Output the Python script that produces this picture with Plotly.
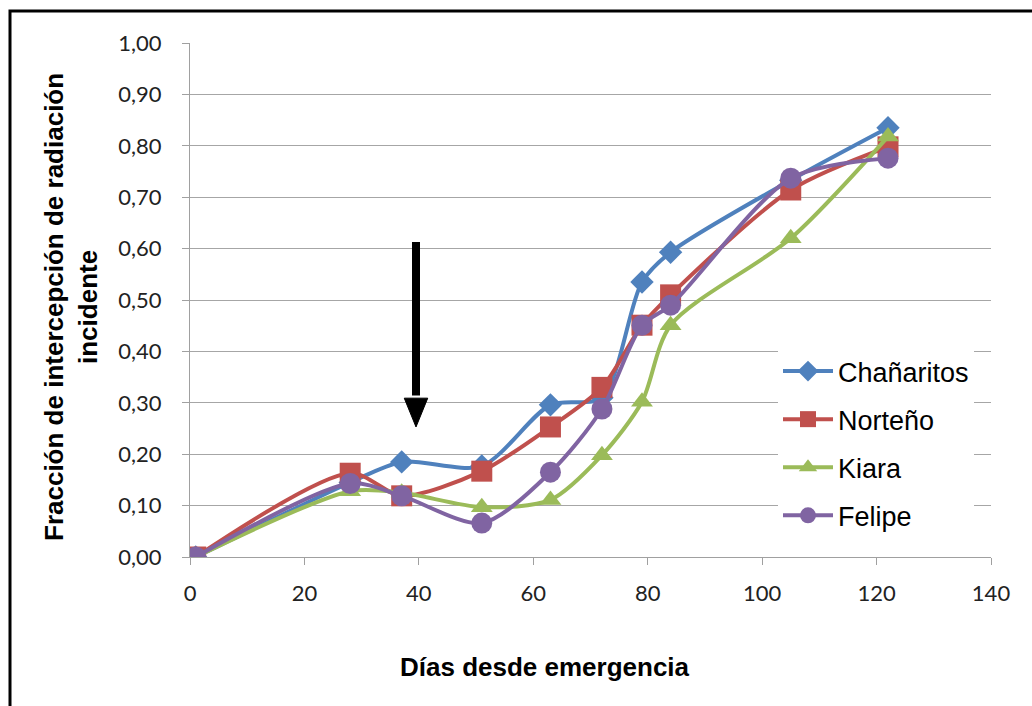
import plotly.graph_objects as go

dias = [1, 28, 37, 51, 63, 72, 79, 84, 105, 122]
chanaritos = [0.0, 0.145, 0.185, 0.177, 0.296, 0.31, 0.535, 0.593, 0.733, 0.835]
norteno = [0.0, 0.163, 0.119, 0.167, 0.253, 0.33, 0.451, 0.51, 0.714, 0.798]
kiara = [0.0, 0.128, 0.125, 0.097, 0.111, 0.198, 0.302, 0.451, 0.62, 0.818]
felipe = [0.0, 0.143, 0.119, 0.066, 0.165, 0.288, 0.451, 0.49, 0.737, 0.776]

series_names = ["Chañaritos", "Norteño", "Kiara", "Felipe"]
series_values = [chanaritos, norteno, kiara, felipe]
colors = ["#4F81BD", "#C0504D", "#9BBB59", "#8064A2"]
symbols = ["diamond", "square", "triangle-up", "circle"]
sizes = [18, 21, 19, 21]

y_tickvals = [0.0, 0.1, 0.2, 0.3, 0.4, 0.5, 0.6, 0.7, 0.8, 0.9, 1.0]
y_ticktext = ["0,00", "0,10", "0,20", "0,30", "0,40", "0,50", "0,60", "0,70", "0,80", "0,90", "1,00"]
x_tickvals = [0, 20, 40, 60, 80, 100, 120, 140]

arrow_x = 39.5
arrow_top = 0.613
arrow_head_top = 0.309
arrow_tip = 0.253

fig = go.Figure()
for name, vals, c, s, sz in zip(series_names, series_values, colors, symbols, sizes):
    fig.add_trace(go.Scatter(
        x=dias, y=vals, name=name, mode="lines+markers",
        legendgroup=name,
        line=dict(color=c, width=4, shape="spline", smoothing=0.8),
        marker=dict(symbol=s, size=sz, color=c),
    ))

# arrow
fig.add_shape(type="line", x0=arrow_x, x1=arrow_x, y0=arrow_top, y1=arrow_head_top + 0.005,
              xref="x", yref="y", line=dict(color="black", width=8), layer="above")
fig.add_shape(type="path",
              path=f"M {arrow_x-2.05},{arrow_head_top} L {arrow_x+2.05},{arrow_head_top} L {arrow_x},{arrow_tip} Z",
              xref="x", yref="y", fillcolor="black", line=dict(color="black", width=1), layer="above")

# outer frame
fig.add_shape(type="rect", xref="paper", yref="paper",
              x0=(10 - 190) / 801, x1=(1045 - 190) / 801,
              y0=(557 - 720) / 514, y1=1 + (43 - 11) / 514,
              line=dict(color="black", width=3), fillcolor="rgba(0,0,0,0)", layer="above")

fig.add_annotation(text="<b>Días desde emergencia</b>", xref="paper", yref="paper",
                   x=(545 - 190) / 801, y=(557 - 667) / 514, showarrow=False,
                   xanchor="center", yanchor="middle",
                   font=dict(family="Liberation Sans", size=26, color="black"))
fig.add_annotation(text="<b>Fracción de intercepción de radiación<br>incidente</b>",
                   xref="paper", yref="paper",
                   x=(71 - 190) / 801, y=(557 - 307) / 514, showarrow=False,
                   textangle=-90, xanchor="center", yanchor="middle",
                   font=dict(family="Liberation Sans", size=26, color="black"))

fig.update_layout(
    width=1032, height=706,
    margin=dict(l=190, r=41, t=43, b=149),
    plot_bgcolor="white", paper_bgcolor="white",
    showlegend=True,
    legend=dict(x=(778 - 190) / 801, y=(557 - 347) / 514, xanchor="left", yanchor="top",
                bgcolor="white", font=dict(family="Liberation Sans", size=27, color="black"),
                tracegroupgap=10, itemwidth=50),
    xaxis=dict(range=[0, 140], tickvals=x_tickvals, showgrid=False, zeroline=False,
               showline=True, linecolor="#A0A0A0", linewidth=1,
               ticks="outside", ticklen=7, tickcolor="#A0A0A0",
               tickfont=dict(family="Lato", size=22, color="#222222"),
               ticklabelstandoff=10),
    yaxis=dict(range=[0, 1.0], tickvals=y_tickvals, ticktext=y_ticktext,
               showgrid=True, gridcolor="#A6A6A6", gridwidth=1, zeroline=False,
               showline=True, linecolor="#A0A0A0", linewidth=1,
               ticks="outside", ticklen=7, tickcolor="#A0A0A0",
               tickfont=dict(family="Lato", size=22, color="#222222"),
               ticklabelstandoff=16),
)
# white backdrop behind legend covering gridlines
fig.add_shape(type="rect", xref="x", yref="paper",
              x0=(760 - 190) / 801 * 140, x1=140, y0=(557 - 545) / 514, y1=(557 - 345) / 514,
              fillcolor="white", line=dict(width=0), layer="between")
fig.write_html("out.html")
